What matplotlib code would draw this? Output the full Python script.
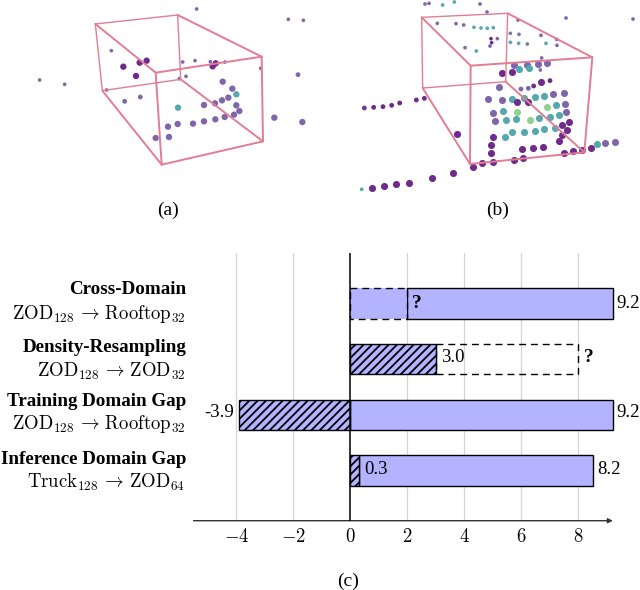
import matplotlib
matplotlib.use('Agg')
import matplotlib.pyplot as plt
from matplotlib.colors import LinearSegmentedColormap

plt.rcParams['font.family'] = ['Liberation Serif', 'DejaVu Serif']
plt.rcParams['mathtext.fontset'] = 'cm'
plt.rcParams['hatch.linewidth'] = 1.3

# --- point clouds (crop coordinates, 3x) ---
# depth: 1 far, 2 middle, 3 near / val: colour value 0..1
a_x = [530, 805, 850, 274, 59, 134, 260, 488, 525, 571, 615, 722, 478, 498, 834, 314, 361,
       608, 637, 649, 625, 606, 585, 552, 649, 658, 642, 614, 586, 552, 519, 473, 444, 447, 407, 474, 763, 847,
       310, 348, 380, 359, 587, 578]
a_y = [27, 58, 61, 152, 240, 253, 270, 186, 182, 185, 186, 205, 236, 229, 224, 304, 291,
       245, 266, 283, 293, 301, 310, 315, 316, 333, 344, 351, 358, 364, 371, 372, 380, 411, 414, 323, 353, 366,
       200, 228, 182, 188, 190, 199]
a_depth = [1] * 14 + [2] * 3 + [3] * 21 + [3] * 6
a_val = [.2] * 17 + [.2, .2, .5, .2, .2, .2, .2, .2, .2, .2, .2, .2, .2, .2, .2, .2, .2, .2, .5, .2, .2] + [0] * 6

b_small_x = [255, 267, 308, 343, 420, 441, 678, 879, 292, 348, 371, 402, 423, 442, 460, 534, 511, 537, 603,
             472, 453, 455, 450, 375, 409, 511, 536, 562, 618, 651, 650, 605, 601, 65]
b_small_y = [12, 10, 15, 6, 12, 36, 54, 57, 70, 71, 75, 82, 84, 85, 83, 60, 100, 103, 106,
             116, 116, 128, 138, 143, 153, 127, 130, 132, 130, 136, 118, 174, 210, 568]
b_small_val = [.2, .2, .5, .5, .2, .2, .2, .2, .2, .2, .2, .5, .5, .5, .5, .2, .3, .3, .2,
               .2, 0, 0, .2, .2, .5, .5, .5, .3, .5, .2, .2, .2, .2, .5]
b_mid_x = [543, 565, 581, 630, 229, 253, 73, 101, 129, 155, 179]
b_mid_y = [267, 265, 258, 242, 300, 295, 324, 322, 320, 316, 309]
b_mid_val = [.2, .2, 0, 0, 0, 0, .05, 0, 0, 0, 0]
b_dark_x = [486, 515, 603, 350, 453, 454, 398, 427, 459, 522, 550, 547, 578, 610, 671, 700, 727, 753,
            688, 680, 667, 656, 340, 275, 206, 169, 133, 96]
b_dark_y = [220, 216, 246, 403, 434, 460, 501, 490, 487, 479, 473, 448, 444, 442, 458, 453, 449, 443,
            366, 389, 405, 422, 520, 534, 549, 552, 558, 564]
b_lav_x = [522, 561, 595, 622, 478, 443, 485, 460, 464, 640, 671, 676, 679, 796, 825]
b_lav_y = [194, 195, 192, 188, 261, 297, 301, 338, 364, 282, 280, 311, 336, 428, 425]
b_teal_x = [537, 568, 516, 551, 584, 613, 489, 498, 529, 597, 630, 656, 648, 494, 516, 552, 584, 612, 644, 770]
b_teal_y = [206, 204, 297, 295, 292, 288, 332, 361, 357, 353, 351, 344, 316, 410, 396, 396, 393, 387, 385, 432]
b_green_x = [532, 622, 571]
b_green_y = [336, 322, 361]
b_yellow_x = [532, 563, 458, 667]
b_yellow_y = [307, 305, 410, 375]

# box corners: four back, four front
box_a_x = [226, 473, 482, 247, 407, 725, 729, 425]
box_a_y = [72, 45, 238, 272, 218, 170, 424, 494]
box_b_x = [245, 503, 497, 248, 392, 757, 733, 390]
box_b_y = [52, 40, 245, 264, 197, 172, 457, 492]

# --- bar chart ---
titles = ['Cross-Domain', 'Density-Resampling', 'Training Domain Gap', 'Inference Domain Gap']
routes = [r'$\mathrm{ZOD}_{128}\,\rightarrow\,\mathrm{Rooftop}_{32}$',
          r'$\mathrm{ZOD}_{128}\,\rightarrow\,\mathrm{ZOD}_{32}$',
          r'$\mathrm{ZOD}_{128}\,\rightarrow\,\mathrm{Rooftop}_{32}$',
          r'$\mathrm{Truck}_{128}\,\rightarrow\,\mathrm{ZOD}_{64}$']
hatched = [0, 3.0, -3.9, 0.3]
solid_left = [2, 0, 0, 0.3]
solid_right = [9.2, 0, 9.2, 8.5]
dash_left = [0, 3.0]
dash_right = [2, 8]
xticks = [-4, -2, 0, 2, 4, 6, 8]

FILL = '#b3b3ff'
PINK = '#e27d93'
cloud_cmap = LinearSegmentedColormap.from_list(
    'cloud', [(0, '#6f2a8c'), (.2, '#7f65aa'), (.5, '#55a8ae'), (.8, '#8fd08f'), (1, '#dcdc55')])
SIZES = {1: 7, 2: 12, 3: 21}

W, H = 640, 590
fig = plt.figure(figsize=(W / 100, H / 100), dpi=100)


def px_axes(left, top, right, bottom):
    return fig.add_axes([left / W, 1 - bottom / H, (right - left) / W, (bottom - top) / H])


def draw_box(ax, xs, ys):
    edges = [(0, 1), (1, 2), (2, 3), (3, 0), (4, 5), (5, 6), (6, 7), (7, 4), (0, 4), (1, 5), (2, 6), (3, 7)]
    for i, j in edges:
        lw = 1.0 if i < 4 and j < 4 else 1.4
        ax.plot([xs[i], xs[j]], [ys[i], ys[j]], color=PINK, lw=lw, solid_capstyle='round', zorder=3)


def cloud_axes(left):
    ax = px_axes(left, 0, left + 300, 225)
    ax.set_xlim(0, 900)
    ax.set_ylim(675, 0)
    ax.axis('off')
    return ax


# panel (a)
ax_a = cloud_axes(20)
ax_a.scatter(a_x, a_y, s=[SIZES[d] for d in a_depth], c=a_val, cmap=cloud_cmap, vmin=0, vmax=1, linewidths=0, zorder=2)
draw_box(ax_a, box_a_x, box_a_y)

# panel (b)
ax_b = cloud_axes(340)
ax_b.scatter(b_small_x, b_small_y, s=SIZES[1], c=b_small_val, cmap=cloud_cmap, vmin=0, vmax=1, linewidths=0, zorder=2)
ax_b.scatter(b_mid_x, b_mid_y, s=SIZES[2], c=b_mid_val, cmap=cloud_cmap, vmin=0, vmax=1, linewidths=0, zorder=2)
for xs, ys, v in [(b_dark_x, b_dark_y, 0), (b_lav_x, b_lav_y, .2), (b_teal_x, b_teal_y, .5),
                  (b_green_x, b_green_y, .8), (b_yellow_x, b_yellow_y, 1)]:
    ax_b.scatter(xs, ys, s=SIZES[3] + 5, color=cloud_cmap(v), linewidths=0, zorder=2)
draw_box(ax_b, box_b_x, box_b_y)

fig.text(168 / W, 1 - 210 / H, '(a)', ha='center', va='center', fontsize=14)
fig.text(498 / W, 1 - 210 / H, '(b)', ha='center', va='center', fontsize=14)
fig.text(348 / W, 1 - 581 / H, '(c)', ha='center', va='center', fontsize=14)

# panel (c)
ax = px_axes(193.5, 253, 612, 520.7)
ax.set_xlim(-5.5, 9.18)
ax.set_ylim(3.894, -0.90)
ypos = [0, 1, 2, 3]
BAR_H = 0.55

for x in xticks:
    if x != 0:
        ax.axvline(x, color='#d4d4d4', lw=0.9, zorder=0)

for y in ypos:
    if solid_right[y] > 0:
        ax.barh(y, solid_right[y] - solid_left[y], left=solid_left[y], height=BAR_H,
                facecolor=FILL, edgecolor='black', lw=1.0, zorder=2, clip_on=False)
    if hatched[y] != 0:
        ax.barh(y, hatched[y], height=BAR_H,
                facecolor=FILL, edgecolor='black', hatch='////', lw=1.0, zorder=3)

# dashed (unknown) parts
ax.barh(0, dash_right[0] - dash_left[0], left=dash_left[0], height=BAR_H,
        facecolor=FILL, edgecolor='none', zorder=2)
for y in [0, 1]:
    ax.barh(y, dash_right[y] - dash_left[y], left=dash_left[y], height=BAR_H, facecolor='none',
            edgecolor='black', lw=1.0, linestyle=(0, (5, 3.5)), zorder=4)

ax.axvline(0, color='black', lw=1.1, zorder=5)

ax.text(2.34, 0.0, '?', fontweight='bold', fontsize=14, ha='center', va='center')
ax.text(8.35, 0.98, '?', fontweight='bold', fontsize=14, ha='center', va='center')
ax.text(9.34, 0.0, '9.2', fontsize=13.5, ha='left', va='center', clip_on=False)
ax.text(3.2, 0.98, '3.0', fontsize=13.5, ha='left', va='center')
ax.text(-4.08, 1.96, '-3.9', fontsize=13.5, ha='right', va='center')
ax.text(9.32, 1.96, '9.2', fontsize=13.5, ha='left', va='center', clip_on=False)
ax.text(0.48, 2.98, '0.3', fontsize=13.5, ha='left', va='center', zorder=6)
ax.text(8.66, 2.98, '8.2', fontsize=13.5, ha='left', va='center')

# labels on the left, two lines for each bar (pixel rows)
title_rows = [290, 347, 402, 459]
route_rows = [314, 371, 424, 482]
for t, r, ty, ry in zip(titles, routes, title_rows, route_rows):
    fig.text(186 / W, 1 - ty / H, t, ha='right', va='center', fontweight='bold', fontsize=13.7)
    fig.text(185 / W, 1 - ry / H, r, ha='right', va='center', fontsize=13.5)

for s in ['top', 'right', 'left', 'bottom']:
    ax.spines[s].set_visible(False)
ax.set_yticks([])
ax.set_xticks(xticks)
ax.set_xticklabels([f'${v}$' for v in xticks], fontsize=13.5)
ax.tick_params(axis='x', length=0, pad=5)
ax.annotate('', xy=(1.002, 0), xytext=(0, 0), xycoords='axes fraction', textcoords='axes fraction',
            arrowprops=dict(arrowstyle='-|>', color='#333333', lw=1.0, shrinkA=0, shrinkB=0, mutation_scale=7))

fig.savefig('out.png', dpi=100)
